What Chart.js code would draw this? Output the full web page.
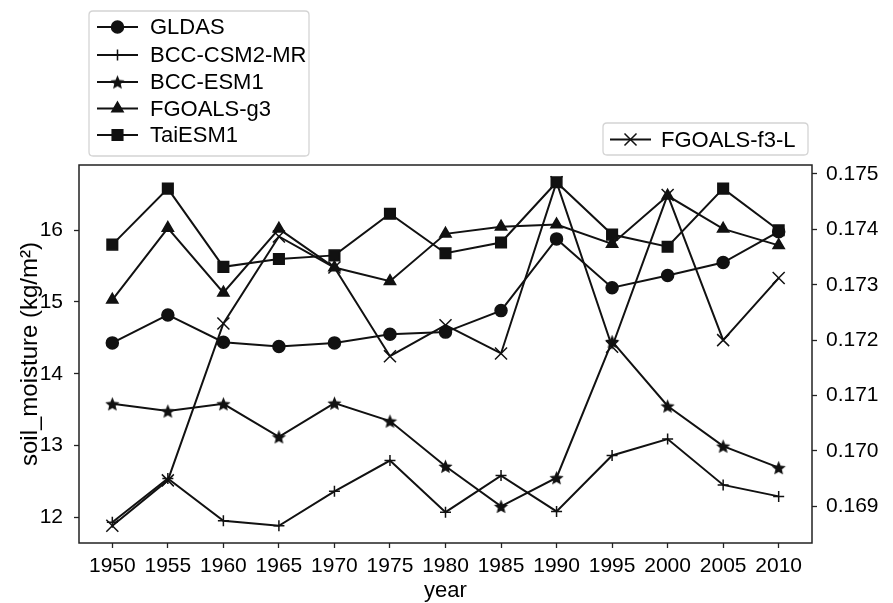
<!DOCTYPE html>
<html>
<head>
<meta charset="utf-8">
<script src="https://cdn.jsdelivr.net/npm/chart.js@4.4.1/dist/chart.umd.min.js"></script>
<style>
  html, body { margin: 0; padding: 0; background: #fff; }
  #wrap { width: 893px; height: 603px; position: relative; }
</style>
</head>
<body>
<div id="wrap"><canvas id="c"></canvas></div>
<script>
// ---- data ----
const years = [1950, 1955, 1960, 1965, 1970, 1975, 1980, 1985, 1990, 1995, 2000, 2005, 2010];
const gldas      = [14.43, 14.82, 14.44, 14.38, 14.43, 14.55, 14.58, 14.88, 15.88, 15.20, 15.37, 15.55, 15.98];
const bccCsm2Mr  = [11.93, 12.54, 11.95, 11.88, 12.36, 12.79, 12.07, 12.58, 12.08, 12.86, 13.09, 12.45, 12.29];
const bccEsm1    = [13.58, 13.48, 13.58, 13.12, 13.59, 13.34, 12.71, 12.15, 12.55, 14.45, 13.55, 12.99, 12.69];
const fgoalsG3   = [15.03, 16.03, 15.13, 16.02, 15.48, 15.29, 15.95, 16.05, 16.08, 15.81, 16.48, 16.02, 15.79];
const taiEsm1    = [15.80, 16.58, 15.49, 15.60, 15.65, 16.23, 15.68, 15.83, 16.67, 15.94, 15.77, 16.58, 16.00];
const fgoalsF3L  = [0.16865, 0.16947, 0.17230, 0.17387, 0.17331, 0.17171, 0.17227, 0.17176, 0.17485, 0.17188, 0.17462, 0.17200, 0.17312];
const seriesNames = ['GLDAS', 'BCC-CSM2-MR', 'BCC-ESM1', 'FGOALS-g3', 'TaiESM1', 'FGOALS-f3-L'];
const yearTicks  = [1950, 1955, 1960, 1965, 1970, 1975, 1980, 1985, 1990, 1995, 2000, 2005, 2010];
const leftTicks  = [12, 13, 14, 15, 16];
const rightTicks = [0.169, 0.170, 0.171, 0.172, 0.173, 0.174, 0.175];
const xTitle = 'year';
const yTitle = 'soil_moisture (kg/m²)';

// ---- styling ----
const FONT = '"Liberation Sans", Arial, "DejaVu Sans", sans-serif';
const INK = '#111';

// filled five-point star marker
function makeStar(R) {
  const r = R * 0.45, s = Math.ceil(R * 2 + 2);
  const cv = document.createElement('canvas');
  cv.width = s; cv.height = s;
  const g = cv.getContext('2d');
  g.translate(s / 2, s / 2 + R * 0.1);
  g.beginPath();
  for (let i = 0; i < 10; i++) {
    const a = -Math.PI / 2 + i * Math.PI / 5;
    const rr = i % 2 === 0 ? R : r;
    g.lineTo(Math.cos(a) * rr, Math.sin(a) * rr);
  }
  g.closePath();
  g.fillStyle = INK;
  g.fill();
  return cv;
}
const starImg = makeStar(7.5);

const toXY = (arr) => arr.map((v, i) => ({ x: years[i], y: v }));

function ds(label, data, style, radius, axis) {
  return {
    label, data: toXY(data), yAxisID: axis,
    borderColor: INK, backgroundColor: INK, borderWidth: 2,
    pointStyle: style, pointRadius: radius, pointHoverRadius: radius,
    pointBackgroundColor: INK, pointBorderColor: INK, pointBorderWidth: 1.5,
    tension: 0, fill: false
  };
}

const datasets = [
  ds(seriesNames[0], gldas, 'circle', 6, 'yL'),
  ds(seriesNames[1], bccCsm2Mr, 'cross', 5.5, 'yL'),
  ds(seriesNames[2], bccEsm1, starImg, 7, 'yL'),
  ds(seriesNames[3], fgoalsG3, 'triangle', 6.5, 'yL'),
  ds(seriesNames[4], taiEsm1, 'rect', 7.5, 'yL'),
  ds(seriesNames[5], fgoalsF3L, 'crossRot', 8.5, 'yR')
];

function drawMarker(ctx, d, x, y) {
  const style = d.pointStyle;
  if (Chart.helpers && Chart.helpers.drawPoint) {
    ctx.save();
    ctx.fillStyle = INK; ctx.strokeStyle = INK; ctx.lineWidth = d.pointBorderWidth;
    Chart.helpers.drawPoint(ctx, { pointStyle: style, radius: d.pointRadius, rotation: 0, borderWidth: d.pointBorderWidth }, x, y);
    ctx.restore();
    return;
  }
  ctx.save();
  ctx.fillStyle = INK; ctx.strokeStyle = INK; ctx.lineWidth = 1.5;
  const r = d.pointRadius;
  ctx.beginPath();
  if (style instanceof HTMLCanvasElement) { ctx.drawImage(style, x - style.width / 2, y - style.height / 2); ctx.restore(); return; }
  if (style === 'circle') { ctx.arc(x, y, r, 0, Math.PI * 2); ctx.fill(); }
  else if (style === 'rect') { const s = r * Math.SQRT1_2; ctx.rect(x - s, y - s, 2 * s, 2 * s); ctx.fill(); }
  else if (style === 'triangle') { ctx.moveTo(x, y - r); ctx.lineTo(x + r * 0.866, y + r / 2); ctx.lineTo(x - r * 0.866, y + r / 2); ctx.closePath(); ctx.fill(); }
  else if (style === 'cross') { ctx.moveTo(x - r, y); ctx.lineTo(x + r, y); ctx.moveTo(x, y - r); ctx.lineTo(x, y + r); ctx.stroke(); }
  else if (style === 'crossRot') { const s = r * Math.SQRT1_2; ctx.moveTo(x - s, y - s); ctx.lineTo(x + s, y + s); ctx.moveTo(x + s, y - s); ctx.lineTo(x - s, y + s); ctx.stroke(); }
  ctx.restore();
}

function roundRect(ctx, x, y, w, h, r) {
  ctx.beginPath();
  ctx.moveTo(x + r, y);
  ctx.lineTo(x + w - r, y); ctx.quadraticCurveTo(x + w, y, x + w, y + r);
  ctx.lineTo(x + w, y + h - r); ctx.quadraticCurveTo(x + w, y + h, x + w - r, y + h);
  ctx.lineTo(x + r, y + h); ctx.quadraticCurveTo(x, y + h, x, y + h - r);
  ctx.lineTo(x, y + r); ctx.quadraticCurveTo(x, y, x + r, y);
  ctx.closePath();
}

function drawLegendBox(chart, idxs, box, rowYs, lineX0, lineX1, textX) {
  const ctx = chart.ctx;
  ctx.save();
  roundRect(ctx, box.x, box.y, box.w, box.h, 4);
  ctx.fillStyle = 'rgba(255,255,255,0.9)';
  ctx.fill();
  ctx.strokeStyle = '#d4d4d4';
  ctx.lineWidth = 1.3;
  ctx.stroke();
  ctx.font = '22px ' + FONT;
  ctx.textBaseline = 'middle';
  ctx.textAlign = 'left';
  idxs.forEach((di, k) => {
    const d = chart.data.datasets[di];
    const y = rowYs[k];
    ctx.beginPath();
    ctx.moveTo(lineX0, y); ctx.lineTo(lineX1, y);
    ctx.strokeStyle = INK; ctx.lineWidth = 2; ctx.stroke();
    drawMarker(ctx, d, (lineX0 + lineX1) / 2, y);
    ctx.fillStyle = '#000';
    ctx.fillText(d.label, textX, y + 1);
  });
  ctx.restore();
}

const framePlugin = {
  id: 'frameAndLegends',
  afterDraw(chart) {
    const { ctx, chartArea: a } = chart;
    ctx.save();
    ctx.strokeStyle = '#222';
    ctx.lineWidth = 1.5;
    ctx.strokeRect(a.left, a.top, a.right - a.left, a.bottom - a.top);
    ctx.restore();
    drawLegendBox(chart, [0, 1, 2, 3, 4], { x: 89, y: 11, w: 220, h: 145 }, [27, 55, 82, 108.5, 135], 97, 138, 150);
    drawLegendBox(chart, [5], { x: 603, y: 123, w: 205, h: 32 }, [139.5], 610, 651, 661);
  }
};

const tickFont = { family: FONT, size: 21 };

new Chart(document.getElementById('c'), {
  type: 'line',
  data: { datasets },
  options: {
    responsive: true,
    maintainAspectRatio: false,
    animation: false,
    devicePixelRatio: 1,
    layout: { padding: { top: 165, left: 0, right: 0, bottom: 0 } },
    plugins: { legend: { display: false }, tooltip: { enabled: false } },
    scales: {
      x: {
        type: 'linear', min: 1947, max: 2013,
        afterBuildTicks: (s) => { s.ticks = yearTicks.map(v => ({ value: v })); },
        afterFit: (s) => { s.height = 60; },
        border: { display: false },
        grid: { drawOnChartArea: false, drawTicks: true, tickLength: 5, tickColor: '#222', tickWidth: 1.3 },
        ticks: { autoSkip: false, maxRotation: 0, padding: 6, color: '#000', font: tickFont, callback: (v) => String(v) },
        title: { display: true, text: xTitle, color: '#000', font: { family: FONT, size: 22, lineHeight: 1 }, padding: { top: 0, bottom: 1 } }
      },
      yL: {
        type: 'linear', position: 'left', min: 11.64, max: 16.91,
        afterBuildTicks: (s) => { s.ticks = leftTicks.map(v => ({ value: v })); },
        afterFit: (s) => { s.width = 79; },
        border: { display: false },
        grid: { drawOnChartArea: false, drawTicks: true, tickLength: 5, tickColor: '#222', tickWidth: 1.3 },
        ticks: { padding: 11, color: '#000', font: tickFont, callback: (v) => String(v) },
        title: { display: true, text: yTitle, color: '#000', font: { family: FONT, size: 24, lineHeight: 1 }, padding: { top: 18, bottom: 0 } }
      },
      yR: {
        type: 'linear', position: 'right', min: 0.16834, max: 0.17516,
        afterBuildTicks: (s) => { s.ticks = rightTicks.map(v => ({ value: v })); },
        afterFit: (s) => { s.width = 81; },
        border: { display: false },
        grid: { drawOnChartArea: false, drawTicks: true, tickLength: 5, tickColor: '#222', tickWidth: 1.3 },
        ticks: { padding: 9, color: '#000', font: tickFont, callback: (v) => Number(v).toFixed(3) }
      }
    }
  },
  plugins: [framePlugin]
});
</script>
</body>
</html>
